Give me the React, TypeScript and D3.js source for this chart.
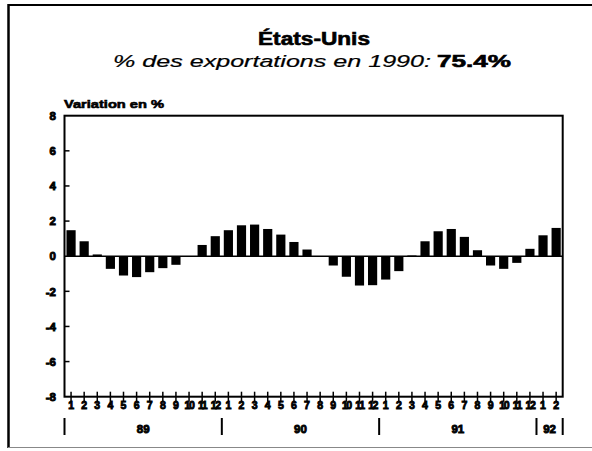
import React from "react";
import * as d3 from "d3";

const years = ["89", "90", "91", "92"];
const monthsPerYear = [12, 12, 12, 2];
const values = [
  1.48, 0.85, 0.1, -0.72, -1.1, -1.19, -0.91, -0.68, -0.49, 0.0, 0.64, 1.14,
  1.48, 1.76, 1.8, 1.55, 1.23, 0.81, 0.38, 0.0, -0.53, -1.17, -1.67, -1.65,
  -1.33, -0.85, 0.04, 0.85, 1.42, 1.55, 1.1, 0.34, -0.53, -0.72, -0.38, 0.42,
  1.19, 1.61,
];
const yTicks = [8, 6, 4, 2, 0, -2, -4, -6, -8];
const title = "États-Unis";
const subtitleText = "% des exportations en 1990:";
const subtitleValue = "75.4%";
const yAxisTitle = "Variation en %";

const W = 592;
const H = 451;
const L = 64.5;
const R = 562.7;
const T = 115.7;
const B = 396.7;
const font = "'Liberation Sans', Arial, Helvetica, sans-serif";

export default function App() {
  const slots: { key: string; month: number; yearIdx: number }[] = [];
  monthsPerYear.forEach((n, yi) => {
    for (let m = 1; m <= n; m++) slots.push({ key: `${years[yi]}-${m}`, month: m, yearIdx: yi });
  });
  const x = d3.scaleBand<string>().domain(slots.map((s) => s.key)).range([L, R]).paddingInner(0.3).paddingOuter(0.15);
  const y = d3.scaleLinear().domain([-8, 8]).range([B, T]);
  const bw = x.bandwidth();
  const center = (k: string) => (x(k) as number) + bw / 2;

  const yearStarts: number[] = [];
  let idx = 0;
  monthsPerYear.forEach((n) => {
    yearStarts.push(idx);
    idx += n;
  });
  const boundary = (i: number) =>
    i === 0 ? L : i >= slots.length ? R : (center(slots[i - 1].key) + center(slots[i].key)) / 2;

  const heavy = { stroke: "#000", strokeWidth: 0.6, paintOrder: "stroke" as const };
  const heavier = { stroke: "#000", strokeWidth: 0.9, paintOrder: "stroke" as const };

  return (
    <svg width={W} height={H} style={{ display: "block", position: "absolute", left: 0, top: 0, background: "#fff" }}>
      <rect x={0} y={0} width={W} height={H} fill="#fff" />
      {/* outer frame */}
      <line x1={8} x2={592} y1={5} y2={5} stroke="#000" strokeWidth={2} />
      <line x1={8.5} x2={8.5} y1={4} y2={448} stroke="#000" strokeWidth={2.5} />
      <line x1={8} x2={592} y1={447.5} y2={447.5} stroke="#888" strokeWidth={1} />

      {/* titles */}
      <text x={258} y={45} textLength={112} lengthAdjust="spacingAndGlyphs" fontFamily={font} fontWeight="bold" fontSize={18} fill="#000" {...heavy}>
        {title}
      </text>
      <text x={113} y={67} textLength={318} lengthAdjust="spacingAndGlyphs" fontFamily={font} fontStyle="italic" fontSize={16.5} fill="#000" stroke="#000" strokeWidth={0.2}>
        {subtitleText}
      </text>
      <text x={437} y={67} textLength={74} lengthAdjust="spacingAndGlyphs" fontFamily={font} fontWeight="bold" fontSize={16.5} fill="#000" {...heavy}>
        {subtitleValue}
      </text>
      <text x={64} y={108} textLength={100} lengthAdjust="spacingAndGlyphs" fontFamily={font} fontWeight="bold" fontSize={11} fill="#000" {...heavy}>
        {yAxisTitle}
      </text>

      {/* bars */}
      {values.map((v, i) => {
        const k = slots[i].key;
        const y0 = y(0);
        const yv = y(v);
        return <rect key={k} x={x(k)} width={bw} y={Math.min(y0, yv)} height={Math.abs(yv - y0)} fill="#000" />;
      })}

      {/* zero line */}
      <line x1={L} x2={R} y1={y(0)} y2={y(0)} stroke="#000" strokeWidth={1.5} />

      {/* plot frame */}
      <rect x={L} y={T} width={R - L} height={B - T} fill="none" stroke="#000" strokeWidth={2} />

      {/* y ticks */}
      {yTicks.map((t) => (
        <g key={t}>
          {t !== 0 && Math.abs(t) !== 8 && (
            <line x1={L} x2={L + 5} y1={y(t)} y2={y(t)} stroke="#000" strokeWidth={1.5} />
          )}
          <text x={56} y={y(t) + 4.2} textAnchor="end" fontFamily={font} fontWeight="bold" fontSize={11.5} fill="#000" {...heavier}>
            {t}
          </text>
        </g>
      ))}

      {/* x ticks and month labels */}
      {slots.map((s) => {
        const cx = center(s.key);
        const two = s.month >= 10;
        return (
          <g key={s.key}>
            <line x1={cx} x2={cx} y1={B - 5} y2={B + 5} stroke="#000" strokeWidth={1.5} />
            <text
              x={cx}
              y={409}
              textAnchor="middle"
              fontFamily={font}
              fontWeight="bold"
              fontSize={10.5}
              fill="#000"
              {...heavier}
              letterSpacing={two ? -1.4 : 0}
            >
              {s.month}
            </text>
          </g>
        );
      })}

      {/* year separators and labels */}
      {yearStarts.map((st, yi) => {
        const x0 = boundary(st);
        const x1 = boundary(st + monthsPerYear[yi]);
        return (
          <g key={years[yi]}>
            <line x1={x0} x2={x0} y1={418} y2={435} stroke="#000" strokeWidth={2} />
            {yi === years.length - 1 && <line x1={x1} x2={x1} y1={418} y2={435} stroke="#000" strokeWidth={2} />}
            <text x={(x0 + x1) / 2} y={433} textAnchor="middle" fontFamily={font} fontWeight="bold" fontSize={11.5} fill="#000" {...heavier}>
              {years[yi]}
            </text>
          </g>
        );
      })}
    </svg>
  );
}
